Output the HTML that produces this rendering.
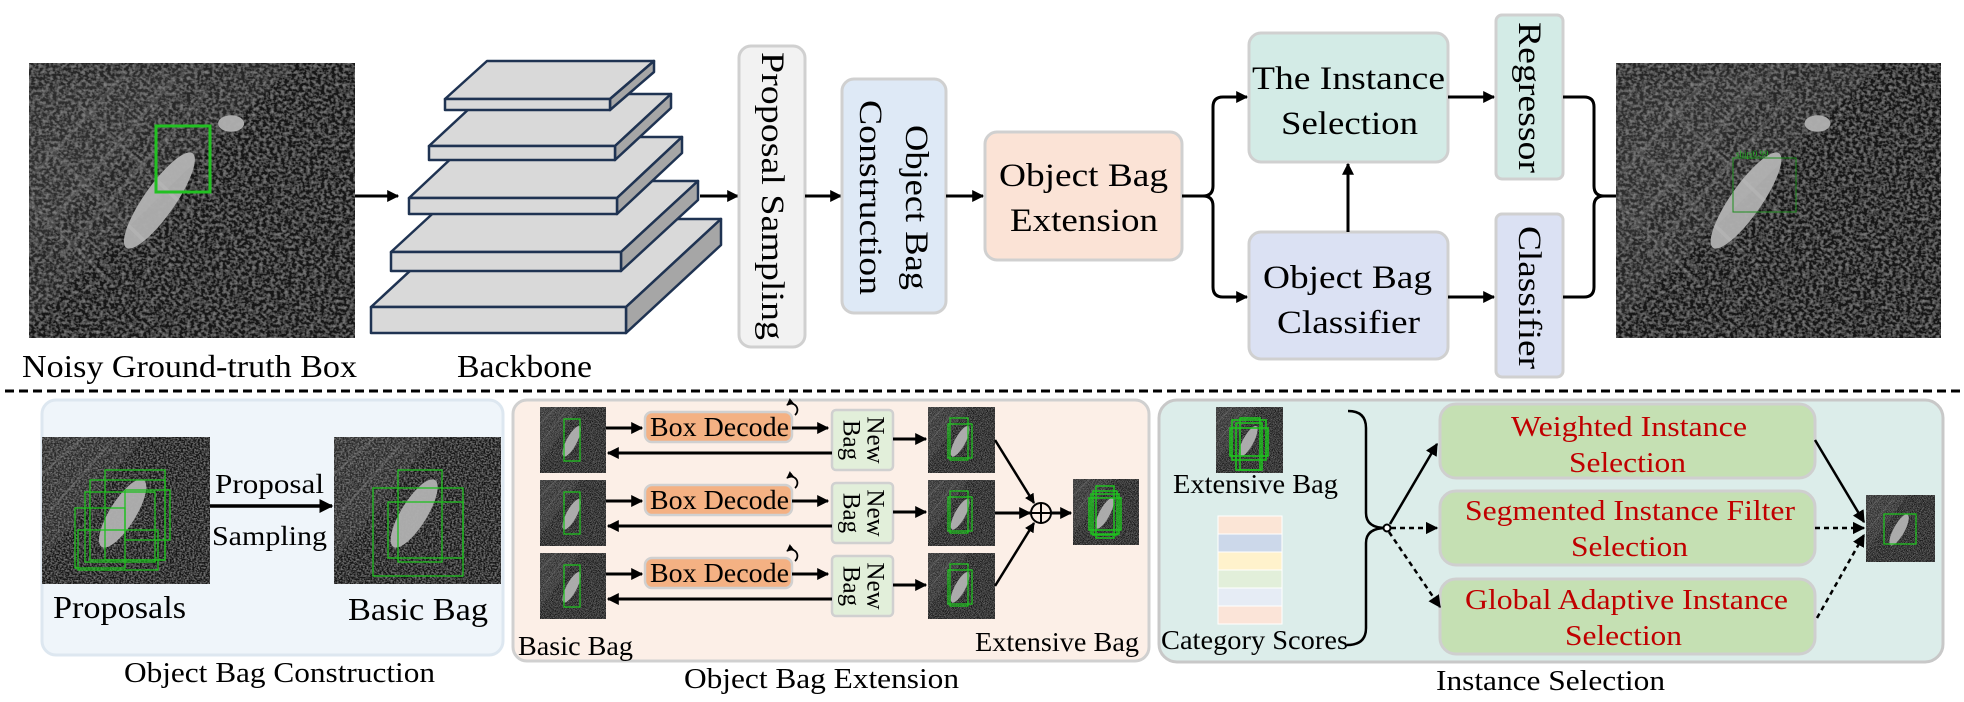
<!DOCTYPE html>
<html><head><meta charset="utf-8"><style>
html,body{margin:0;padding:0;background:#fff}
svg{display:block}
text{font-family:"Liberation Serif","Times New Roman",serif;fill:#000}
</style></head><body>
<svg width="1964" height="702" viewBox="0 0 1964 702" xmlns="http://www.w3.org/2000/svg">
<defs>
<marker id="ah" viewBox="0 0 10 10" refX="9" refY="5" markerWidth="4" markerHeight="4" orient="auto" markerUnits="strokeWidth"><path d="M0,0 L10,5 L0,10 z" fill="#000"/></marker>
<marker id="ah2" viewBox="0 0 10 10" refX="9" refY="5" markerWidth="5" markerHeight="5" orient="auto" markerUnits="strokeWidth"><path d="M0,0 L10,5 L0,10 z" fill="#000"/></marker>
<filter id="noise" x="0" y="0" width="100%" height="100%">
<feTurbulence type="fractalNoise" baseFrequency="0.9" numOctaves="2" seed="3" result="t"/>
<feColorMatrix in="t" type="matrix" values="0 0 0 0 0.45  0 0 0 0 0.45  0 0 0 0 0.45  1 0 0 0 -0.4" result="n"/>
<feComposite in="n" in2="SourceGraphic" operator="in" result="m"/>
<feMerge><feMergeNode in="SourceGraphic"/><feMergeNode in="m"/></feMerge>
</filter>
<symbol id="sar" viewBox="0 0 100 100" preserveAspectRatio="none">
<g filter="url(#noise)">
<rect width="100" height="100" fill="#121212"/>
<polygon points="0,0 82,0 0,95" fill="#262626"/>
<polygon points="0,10 55,0 0,70" fill="#333" opacity="0.7"/>
<g stroke="#5a5a5a" stroke-width="1.2" opacity="0.6">
<line x1="5" y1="60" x2="45" y2="5"/><line x1="10" y1="70" x2="55" y2="10"/><line x1="2" y1="40" x2="30" y2="3"/>
<line x1="5" y1="30" x2="40" y2="70"/><line x1="15" y1="15" x2="50" y2="55"/><line x1="0" y1="50" x2="25" y2="80"/>
</g>
<ellipse cx="40" cy="50" rx="5" ry="20" transform="rotate(30 40 50)" fill="#cfcfcf" opacity="0.8"/>
<ellipse cx="62" cy="22" rx="4" ry="3" fill="#aaa"/>
</g>
</symbol>
<symbol id="sarz" viewBox="0 0 100 100" preserveAspectRatio="none">
<g filter="url(#noise)">
<rect width="100" height="100" fill="#141414"/>
<polygon points="0,0 60,0 0,85" fill="#2c2c2c"/>
<g stroke="#5a5a5a" stroke-width="1.5" opacity="0.7"><line x1="5" y1="50" x2="40" y2="5"/><line x1="0" y1="25" x2="25" y2="0"/></g>
<ellipse cx="48" cy="52" rx="8" ry="26" transform="rotate(28 48 52)" fill="#d0d0d0" opacity="0.8"/>
</g>
</symbol>
</defs>

<!-- TOP ROW -->
<use href="#sar" x="29" y="63" width="326" height="275"/>
<rect x="156" y="126" width="54" height="66" fill="none" stroke="#22c022" stroke-width="3"/>
<text x="22" y="377" font-size="32" textLength="335" lengthAdjust="spacingAndGlyphs">Noisy Ground-truth Box</text>
<line x1="355" y1="196" x2="398" y2="196" stroke="#000" stroke-width="3" marker-end="url(#ah)"/>

<g stroke="#1f3352" stroke-width="2.5" stroke-linejoin="round">
<g><polygon points="371,307 466,219 721,219 626,307" fill="#d9d9d9"/><polygon points="626,307 721,219 721,245 626,333" fill="#a6a6a6"/><rect x="371" y="307" width="255" height="26" fill="#d9d9d9"/></g>
<g><polygon points="391,252 468,181 698,181 621,252" fill="#d9d9d9"/><polygon points="621,252 698,181 698,200 621,271" fill="#a6a6a6"/><rect x="391" y="252" width="230" height="19" fill="#d9d9d9"/></g>
<g><polygon points="409,198 474,137 682,137 617,198" fill="#d9d9d9"/><polygon points="617,198 682,137 682,153 617,214" fill="#a6a6a6"/><rect x="409" y="198" width="208" height="16" fill="#d9d9d9"/></g>
<g><polygon points="429,146 485,94 671,94 615,146" fill="#d9d9d9"/><polygon points="615,146 671,94 671,108 615,160" fill="#a6a6a6"/><rect x="429" y="146" width="186" height="14" fill="#d9d9d9"/></g>
<g><polygon points="445,99 487,61 654,61 610,99" fill="#d9d9d9"/><polygon points="610,99 654,61 654,72 610,110" fill="#a6a6a6"/><rect x="445" y="99" width="165" height="11" fill="#d9d9d9"/></g>
</g>
<text x="457" y="377" font-size="32" textLength="135" lengthAdjust="spacingAndGlyphs">Backbone</text>
<line x1="700" y1="196" x2="738" y2="196" stroke="#000" stroke-width="3" marker-end="url(#ah)"/>

<rect x="739" y="46" width="66" height="301" rx="12" fill="#f2f2f2" stroke="#d0d0d0" stroke-width="3"/>
<text transform="translate(772,52) rotate(90)" font-size="33" dominant-baseline="central" textLength="288" lengthAdjust="spacingAndGlyphs">Proposal Sampling</text>
<line x1="805" y1="196" x2="841" y2="196" stroke="#000" stroke-width="3" marker-end="url(#ah)"/>

<rect x="842" y="79" width="104" height="234" rx="12" fill="#dee9f6" stroke="#d0d0d0" stroke-width="3"/>
<text transform="translate(916,125) rotate(90)" font-size="33" dominant-baseline="central" textLength="165" lengthAdjust="spacingAndGlyphs">Object Bag</text>
<text transform="translate(870,100) rotate(90)" font-size="33" dominant-baseline="central" textLength="195" lengthAdjust="spacingAndGlyphs">Construction</text>
<line x1="946" y1="196" x2="983" y2="196" stroke="#000" stroke-width="3" marker-end="url(#ah)"/>

<rect x="985" y="132" width="197" height="128" rx="12" fill="#fbe3d6" stroke="#d0d0d0" stroke-width="3"/>
<text x="999" y="186" font-size="33" textLength="169" lengthAdjust="spacingAndGlyphs">Object Bag</text>
<text x="1010" y="231" font-size="33" textLength="148" lengthAdjust="spacingAndGlyphs">Extension</text>

<path d="M1182,196 H1203 Q1213,196 1213,186 V107 Q1213,97 1223,97 H1247" fill="none" stroke="#000" stroke-width="3" marker-end="url(#ah)"/>
<path d="M1203,196 Q1213,196 1213,206 V287 Q1213,297 1223,297 H1247" fill="none" stroke="#000" stroke-width="3" marker-end="url(#ah)"/>

<rect x="1249" y="33" width="199" height="129" rx="12" fill="#d3ebe6" stroke="#d0d0d0" stroke-width="3"/>
<text x="1252" y="89" font-size="33" textLength="193" lengthAdjust="spacingAndGlyphs">The Instance</text>
<text x="1281" y="134" font-size="33" textLength="137" lengthAdjust="spacingAndGlyphs">Selection</text>
<rect x="1249" y="232" width="199" height="127" rx="12" fill="#dbe1f3" stroke="#d0d0d0" stroke-width="3"/>
<text x="1263" y="288" font-size="33" textLength="169" lengthAdjust="spacingAndGlyphs">Object Bag</text>
<text x="1277" y="333" font-size="33" textLength="143" lengthAdjust="spacingAndGlyphs">Classifier</text>
<line x1="1348" y1="232" x2="1348" y2="164" stroke="#000" stroke-width="3" marker-end="url(#ah)"/>
<line x1="1448" y1="97" x2="1494" y2="97" stroke="#000" stroke-width="3" marker-end="url(#ah)"/>
<line x1="1448" y1="297" x2="1494" y2="297" stroke="#000" stroke-width="3" marker-end="url(#ah)"/>

<rect x="1496" y="15" width="67" height="164" rx="6" fill="#d3ebe6" stroke="#d0d0d0" stroke-width="3"/>
<text transform="translate(1529,22) rotate(90)" font-size="33" dominant-baseline="central" textLength="151" lengthAdjust="spacingAndGlyphs">Regressor</text>
<rect x="1496" y="214" width="67" height="163" rx="6" fill="#dbe1f3" stroke="#d0d0d0" stroke-width="3"/>
<text transform="translate(1529,226) rotate(90)" font-size="33" dominant-baseline="central" textLength="143" lengthAdjust="spacingAndGlyphs">Classifier</text>

<path d="M1563,97 H1584 Q1594,97 1594,107 V186 Q1594,196 1604,196 H1616 M1563,297 H1584 Q1594,297 1594,287 V206 Q1594,196 1604,196" fill="none" stroke="#000" stroke-width="3"/>
<use href="#sar" x="1616" y="63" width="325" height="275"/>
<rect x="1733" y="158" width="63" height="54" fill="none" stroke="#1f8f1f" stroke-width="1"/>
<text x="1736" y="157" font-size="9" style="fill:#22aa22">ship|0.99</text>

<line x1="5" y1="391" x2="1960" y2="391" stroke="#000" stroke-width="3" stroke-dasharray="9,5"/>

<!-- PANEL 1 -->
<rect x="42" y="400" width="461" height="255" rx="14" fill="#eff5fa" stroke="#dde7f0" stroke-width="3"/>
<use href="#sarz" x="42" y="437" width="168" height="147"/>
<g fill="none" stroke="#1fc01f" stroke-width="1.3">
<rect x="75" y="508" width="50" height="60"/><rect x="85" y="492" width="70" height="70"/><rect x="90" y="480" width="75" height="80"/>
<rect x="105" y="470" width="60" height="90"/><rect x="125" y="490" width="45" height="50"/><rect x="78" y="530" width="80" height="40"/>
</g>
<use href="#sarz" x="334" y="437" width="167" height="147"/>
<g fill="none" stroke="#1fc01f" stroke-width="1.3">
<rect x="373" y="488" width="90" height="88"/><rect x="398" y="470" width="44" height="92"/><rect x="388" y="502" width="75" height="56"/>
</g>
<line x1="210" y1="506" x2="332" y2="506" stroke="#000" stroke-width="3.5" marker-end="url(#ah)"/>
<text x="215" y="493" font-size="27" textLength="109" lengthAdjust="spacingAndGlyphs">Proposal</text>
<text x="212" y="545" font-size="27" textLength="115" lengthAdjust="spacingAndGlyphs">Sampling</text>
<text x="53" y="618" font-size="32" textLength="133" lengthAdjust="spacingAndGlyphs">Proposals</text>
<text x="348" y="620" font-size="32" textLength="140" lengthAdjust="spacingAndGlyphs">Basic Bag</text>
<text x="124" y="682" font-size="28" textLength="311" lengthAdjust="spacingAndGlyphs">Object Bag Construction</text>

<!-- PANEL 2 -->
<rect x="513" y="400" width="636" height="261" rx="14" fill="#fcefe7" stroke="#d0d0d0" stroke-width="3"/>
<g id="row">
<use href="#sarz" x="540" y="407" width="66" height="66"/>
<rect x="564" y="419" width="16" height="42" fill="none" stroke="#1fc01f" stroke-width="1.3"/>
<line x1="606" y1="428" x2="642" y2="428" stroke="#000" stroke-width="3" marker-end="url(#ah)"/>
<rect x="645" y="412" width="147" height="30" rx="7" fill="#f4b183" stroke="#d0d0d0" stroke-width="2.5"/>
<text x="650" y="436" font-size="27" textLength="139" lengthAdjust="spacingAndGlyphs">Box Decode</text>
<path d="M795,415 A6,6 0 1 0 787,405" fill="none" stroke="#000" stroke-width="1.8" marker-end="url(#ah)"/>
<line x1="792" y1="428" x2="828" y2="428" stroke="#000" stroke-width="3" marker-end="url(#ah)"/>
<rect x="832" y="410" width="61" height="60" rx="4" fill="#e2efda" stroke="#d0d0d0" stroke-width="2.5"/>
<text transform="translate(875,440) rotate(90)" font-size="25" text-anchor="middle" dominant-baseline="central">New</text>
<text transform="translate(851,440) rotate(90)" font-size="25" text-anchor="middle" dominant-baseline="central">Bag</text>
<line x1="832" y1="453" x2="608" y2="453" stroke="#000" stroke-width="3" marker-end="url(#ah)"/>
<line x1="893" y1="439" x2="926" y2="439" stroke="#000" stroke-width="3" marker-end="url(#ah)"/>
<use href="#sarz" x="928" y="407" width="67" height="66"/>
<g fill="none" stroke="#1fc01f" stroke-width="1.3"><rect x="950" y="418" width="18" height="42"/><rect x="948" y="424" width="24" height="34"/></g>
</g>
<use href="#row" y="73"/>
<use href="#row" y="146"/>
<line x1="995" y1="440" x2="1034" y2="503" stroke="#000" stroke-width="2.5" marker-end="url(#ah)"/>
<line x1="995" y1="513" x2="1030" y2="513" stroke="#000" stroke-width="3" marker-end="url(#ah)"/>
<line x1="995" y1="586" x2="1034" y2="523" stroke="#000" stroke-width="2.5" marker-end="url(#ah)"/>
<circle cx="1041" cy="513" r="10" fill="none" stroke="#000" stroke-width="2"/>
<line x1="1031" y1="513" x2="1051" y2="513" stroke="#000" stroke-width="2"/>
<line x1="1041" y1="503" x2="1041" y2="523" stroke="#000" stroke-width="2"/>
<line x1="1051" y1="513" x2="1071" y2="513" stroke="#000" stroke-width="3" marker-end="url(#ah)"/>
<use href="#sarz" x="1073" y="479" width="66" height="66"/>
<g fill="none" stroke="#1fc01f" stroke-width="1.5"><rect x="1093" y="491" width="24" height="44"/><rect x="1089" y="498" width="32" height="32"/><rect x="1096" y="486" width="18" height="52"/><rect x="1091" y="494" width="28" height="40"/></g>
<text x="518" y="655" font-size="27" textLength="115" lengthAdjust="spacingAndGlyphs">Basic Bag</text>
<text x="975" y="651" font-size="27" textLength="164" lengthAdjust="spacingAndGlyphs">Extensive Bag</text>
<text x="684" y="688" font-size="28" textLength="275" lengthAdjust="spacingAndGlyphs">Object Bag Extension</text>

<!-- PANEL 3 -->
<rect x="1159" y="400" width="784" height="262" rx="18" fill="#dcedea" stroke="#c8c8c8" stroke-width="3"/>
<use href="#sarz" x="1216" y="407" width="67" height="66"/>
<g fill="none" stroke="#1fc01f" stroke-width="1.6"><rect x="1232" y="420" width="34" height="40"/><rect x="1236" y="423" width="26" height="47"/><rect x="1230" y="428" width="38" height="28"/><rect x="1240" y="418" width="20" height="52"/></g>
<text x="1173" y="493" font-size="27" textLength="165" lengthAdjust="spacingAndGlyphs">Extensive Bag</text>
<g stroke="#fff" stroke-width="1">
<rect x="1218" y="516" width="64" height="18" fill="#fbe5d6"/>
<rect x="1218" y="534" width="64" height="18" fill="#ccd8ea"/>
<rect x="1218" y="552" width="64" height="18" fill="#fff2cc"/>
<rect x="1218" y="570" width="64" height="18" fill="#e2efda"/>
<rect x="1218" y="588" width="64" height="18" fill="#e6ecf5"/>
<rect x="1218" y="606" width="64" height="18" fill="#fbe4d8"/>
</g>
<text x="1161" y="649" font-size="27" textLength="187" lengthAdjust="spacingAndGlyphs">Category Scores</text>
<path d="M1348,411 Q1366,411 1366,428 V513 Q1366,528 1386,528 M1347,645 Q1366,645 1366,628 V543 Q1366,528 1386,528" fill="none" stroke="#000" stroke-width="2.5"/>
<circle cx="1387" cy="528" r="3.5" fill="#fff" stroke="#000" stroke-width="2"/>

<rect x="1440" y="404" width="375" height="74" rx="16" fill="#c5e0b3" stroke="#cfcfcf" stroke-width="3"/>
<rect x="1440" y="491" width="375" height="74" rx="16" fill="#c5e0b3" stroke="#cfcfcf" stroke-width="3"/>
<rect x="1440" y="579" width="375" height="75" rx="16" fill="#c5e0b3" stroke="#cfcfcf" stroke-width="3"/>
<text x="1511" y="436" font-size="29" style="fill:#c00000" textLength="236" lengthAdjust="spacingAndGlyphs">Weighted Instance</text>
<text x="1569" y="472" font-size="29" style="fill:#c00000" textLength="117" lengthAdjust="spacingAndGlyphs">Selection</text>
<text x="1465" y="520" font-size="29" style="fill:#c00000" textLength="330" lengthAdjust="spacingAndGlyphs">Segmented Instance Filter</text>
<text x="1571" y="556" font-size="29" style="fill:#c00000" textLength="117" lengthAdjust="spacingAndGlyphs">Selection</text>
<text x="1465" y="609" font-size="29" style="fill:#c00000" textLength="323" lengthAdjust="spacingAndGlyphs">Global Adaptive Instance</text>
<text x="1565" y="645" font-size="29" style="fill:#c00000" textLength="117" lengthAdjust="spacingAndGlyphs">Selection</text>
<line x1="1390" y1="524" x2="1437" y2="444" stroke="#000" stroke-width="2.5" marker-end="url(#ah2)"/>
<line x1="1391" y1="528" x2="1437" y2="528" stroke="#000" stroke-width="2.5" stroke-dasharray="5,4" marker-end="url(#ah2)"/>
<line x1="1389" y1="532" x2="1440" y2="607" stroke="#000" stroke-width="2.5" stroke-dasharray="5,4" marker-end="url(#ah2)"/>
<line x1="1815" y1="440" x2="1864" y2="522" stroke="#000" stroke-width="2.5" marker-end="url(#ah2)"/>
<line x1="1815" y1="528" x2="1864" y2="528" stroke="#000" stroke-width="2.5" stroke-dasharray="5,4" marker-end="url(#ah2)"/>
<line x1="1817" y1="618" x2="1864" y2="535" stroke="#000" stroke-width="2.5" stroke-dasharray="5,4" marker-end="url(#ah2)"/>
<use href="#sarz" x="1866" y="495" width="69" height="67"/>
<rect x="1884" y="514" width="32" height="30" fill="none" stroke="#1fc01f" stroke-width="1.3"/>
<text x="1436" y="690" font-size="28" textLength="229" lengthAdjust="spacingAndGlyphs">Instance Selection</text>
</svg>
</body></html>
